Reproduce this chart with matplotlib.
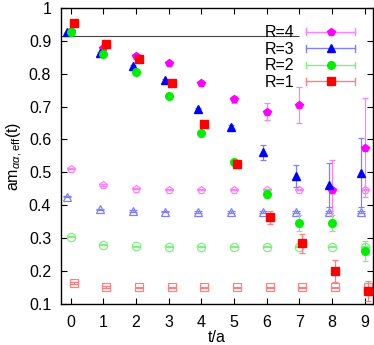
import numpy as np
import matplotlib
matplotlib.use("Agg")
import matplotlib.pyplot as plt
from matplotlib.lines import Line2D
from matplotlib.legend_handler import HandlerBase

plt.rcParams['font.family'] = ['Liberation Sans', 'DejaVu Sans']
plt.rcParams['mathtext.fontset'] = 'custom'
plt.rcParams['mathtext.rm'] = 'Liberation Sans'
plt.rcParams['mathtext.it'] = 'Liberation Sans:italic'

t = np.arange(10)

# filled symbols (effective mass, one per R)
r4 = [0.930, 0.879, 0.855, 0.832, 0.773, 0.722, 0.685, 0.705, 0.446, 0.575]
r4_err = [0.003, 0.004, 0.004, 0.005, 0.005, 0.010, 0.027, 0.056, 0.093, 0.151]
r3 = [0.926, 0.864, 0.822, 0.780, 0.692, 0.637, 0.561, 0.489, 0.463, 0.499]
r3_err = [0.002, 0.003, 0.003, 0.004, 0.004, 0.008, 0.023, 0.032, 0.067, 0.105]
r2 = [0.928, 0.859, 0.804, 0.732, 0.620, 0.531, 0.433, 0.346, 0.346, 0.262]
r2_err = [0.002, 0.003, 0.003, 0.004, 0.004, 0.006, 0.012, 0.025, 0.025, 0.030]
r1 = [0.953, 0.891, 0.846, 0.772, 0.647, 0.526, 0.363, 0.285, 0.201, 0.140]
r1_err = [0.002, 0.003, 0.004, 0.005, 0.006, 0.008, 0.021, 0.029, 0.034, 0.031]

# open symbols
r4_open = [0.511, 0.462, 0.450, 0.447, 0.447, 0.447, 0.447, 0.447, 0.447, 0.447]
r3_open = [0.426, 0.388, 0.383, 0.381, 0.380, 0.380, 0.380, 0.380, 0.380, 0.380]
r2_open = [0.305, 0.280, 0.275, 0.274, 0.274, 0.274, 0.274, 0.274, 0.274, 0.274]
r1_open = [0.164, 0.152, 0.151, 0.151, 0.151, 0.151, 0.151, 0.151, 0.151, 0.151]
open_err = 0.002

hline_y = 0.915
hline_end = 7.0   # the key box hides the rest of the line
labels = ['R=4', 'R=3', 'R=2', 'R=1']

# (data, err, open data, marker, color, light color, x shift)
series = [
    (r4, r4_err, r4_open, 'p', '#ff00ff', '#ff80ff', 0.0),
    (r3, r3_err, r3_open, '^', '#0000ff', '#8080ff', -0.1),
    (r2, r2_err, r2_open, 'o', '#00ee00', '#80f080', 0.0),
    (r1, r1_err, r1_open, 's', '#ff0000', '#ff8080', 0.09),
]


class GpHandler(HandlerBase):
    # gnuplot style key: horizontal bar with end tics and the point in the middle
    def __init__(self, marker, color, light):
        super().__init__()
        self.marker, self.color, self.light = marker, color, light

    def create_artists(self, legend, orig, xd, yd, w, h, fs, trans):
        x0, x1 = -xd, -xd + w
        y = -yd + h / 2
        c = h * 0.3
        arts = [Line2D([x0, x1], [y, y], color=self.light, lw=1),
                Line2D([x0, x0], [y - c, y + c], color=self.light, lw=1),
                Line2D([x1, x1], [y - c, y + c], color=self.light, lw=1),
                Line2D([(x0 + x1) / 2], [y], marker=self.marker, color=self.color,
                       ms=5.5, ls='none')]
        for a in arts:
            a.set_transform(trans)
        return arts


fig = plt.figure(figsize=(3.74, 3.45), dpi=100)
ax = fig.add_axes([0.163, 0.119, 0.834, 0.858])

ax.hlines(hline_y, -0.3, hline_end, color='#444444', lw=0.8, zorder=1)

handles = []
for vals, err, opn, m, col, light, dx in series:
    ax.errorbar(t + dx, opn, yerr=open_err, fmt=m, mfc='none', mec=light, ms=6,
                mew=0.9, ecolor=light, elinewidth=0.9, capsize=3, capthick=0.9, zorder=2)
    ax.errorbar(t + dx, vals, yerr=err, fmt=m, color=col, ms=5.5, ecolor=light,
                elinewidth=0.9, capsize=2.5, capthick=0.9, zorder=3)
    handles.append(Line2D([], [], marker=m, color=col))

ax.legend(handles, labels, loc='upper right', bbox_to_anchor=(0.99, 0.99),
          frameon=False, markerfirst=False, fontsize=11.5, handlelength=3.1,
          labelspacing=0.1, handletextpad=0.7,
          handler_map={h: GpHandler(s[3], s[4], s[5]) for h, s in zip(handles, series)})

ax.set_xlim(-0.3, 9.25)
ax.set_ylim(0.1, 1.0)
ax.set_xticks(t)
ax.set_yticks([0.1, 0.2, 0.3, 0.4, 0.5, 0.6, 0.7, 0.8, 0.9, 1.0])
ax.set_yticklabels(['0.1', '0.2', '0.3', '0.4', '0.5', '0.6', '0.7', '0.8', '0.9', '1'])
ax.tick_params(direction='in', length=4, width=0.8, top=True, right=True,
               labelsize=11.5)
ax.tick_params(axis='y', pad=7)
ax.tick_params(axis='x', pad=8)
for sp in ax.spines.values():
    sp.set_linewidth(1.0)

ax.set_xlabel('t/a', fontsize=11.5, labelpad=0)
ax.set_ylabel(r'am$_{\alpha\alpha,\mathrm{eff}}$(t)', fontsize=11.5, labelpad=3)

fig.savefig('out.png', dpi=100)
